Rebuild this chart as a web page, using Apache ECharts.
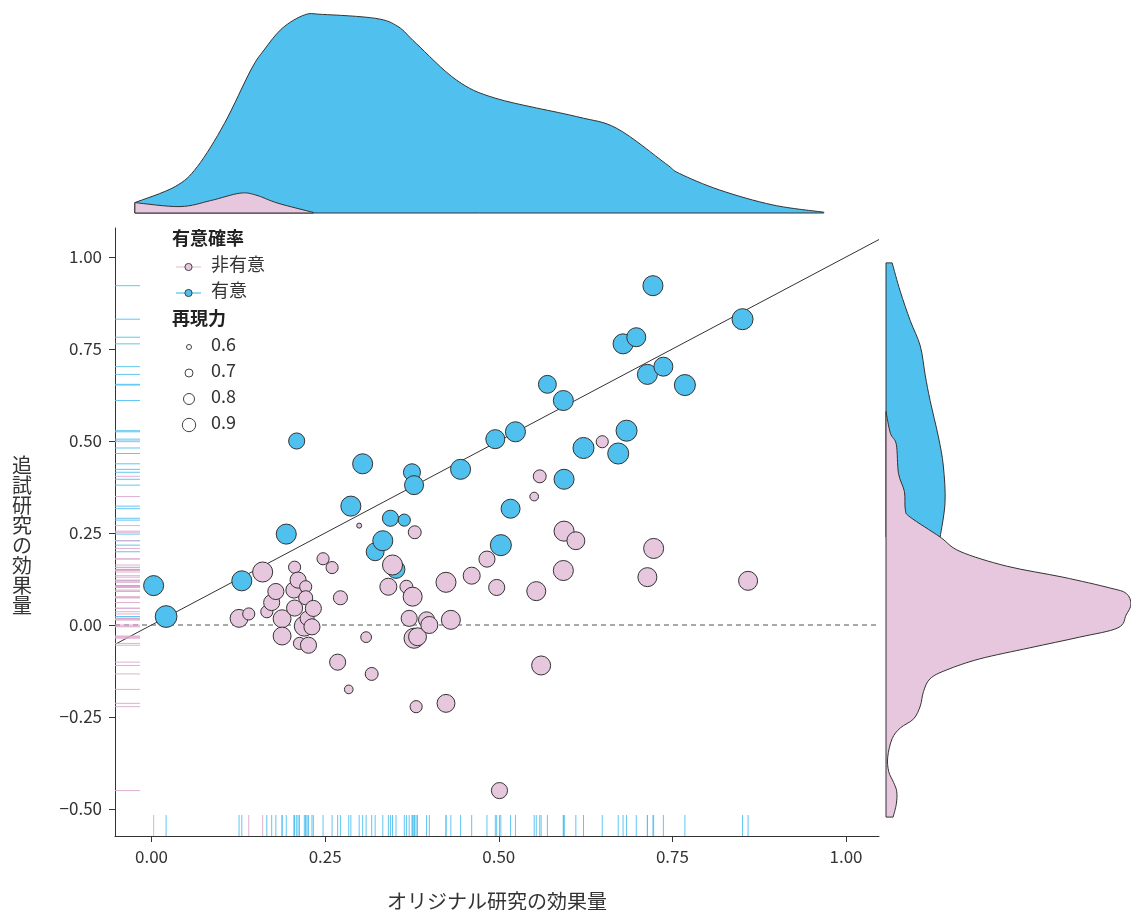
<!DOCTYPE html>
<html>
<head>
<meta charset="utf-8">
<script src="https://cdn.jsdelivr.net/npm/echarts@6/dist/echarts.min.js"></script>
<style>
  html, body { margin: 0; padding: 0; background: #fff; }
  #chart { width: 1131px; height: 910px; }
</style>
</head>
<body>
<div id="chart"></div>
<script>
// Studies whose replication was significant (p < .05)
const sigOrig = [0.003, 0.021, 0.130, 0.194, 0.209, 0.287, 0.304, 0.322, 0.333, 0.344, 0.364, 0.352, 0.375, 0.378, 0.445, 0.495, 0.503, 0.517, 0.524, 0.570, 0.593, 0.594, 0.622, 0.672, 0.679, 0.684, 0.698, 0.714, 0.722, 0.737, 0.768, 0.851];
const sigRep = [0.107, 0.023, 0.120, 0.247, 0.500, 0.323, 0.438, 0.199, 0.229, 0.290, 0.285, 0.151, 0.415, 0.380, 0.423, 0.505, 0.217, 0.316, 0.525, 0.654, 0.610, 0.396, 0.481, 0.466, 0.764, 0.528, 0.782, 0.681, 0.922, 0.702, 0.652, 0.831];
const sigPower = [0.92, 0.99, 0.92, 0.92, 0.78, 0.92, 0.92, 0.84, 0.92, 0.78, 0.67, 0.84, 0.81, 0.88, 0.92, 0.88, 0.96, 0.88, 0.92, 0.84, 0.92, 0.92, 0.96, 0.96, 0.92, 0.96, 0.88, 0.92, 0.92, 0.88, 0.96, 0.96];

// Studies whose replication was not significant
const nsOrig = [0.126, 0.140, 0.160, 0.166, 0.173, 0.179, 0.188, 0.188, 0.205, 0.206, 0.206, 0.211, 0.213, 0.220, 0.222, 0.222, 0.224, 0.226, 0.231, 0.233, 0.247, 0.260, 0.272, 0.268, 0.284, 0.299, 0.309, 0.317, 0.341, 0.347, 0.367, 0.376, 0.371, 0.378, 0.383, 0.379, 0.381, 0.396, 0.400, 0.424, 0.424, 0.431, 0.461, 0.483, 0.497, 0.501, 0.551, 0.554, 0.559, 0.561, 0.594, 0.593, 0.611, 0.649, 0.714, 0.723, 0.859];
const nsRep = [0.018, 0.030, 0.144, 0.036, 0.061, 0.091, 0.017, -0.030, 0.095, 0.046, 0.157, 0.122, -0.050, -0.003, 0.104, 0.074, 0.018, -0.055, -0.005, 0.045, 0.180, 0.156, 0.074, -0.101, -0.175, 0.270, -0.033, -0.133, 0.104, 0.163, 0.104, 0.077, 0.018, -0.036, -0.032, 0.252, -0.222, 0.014, 0.000, 0.116, -0.213, 0.014, 0.134, 0.179, 0.102, -0.450, 0.349, 0.092, 0.404, -0.110, 0.255, 0.148, 0.229, 0.498, 0.130, 0.208, 0.120];
const nsPower = [0.84, 0.67, 0.92, 0.67, 0.78, 0.78, 0.84, 0.84, 0.78, 0.78, 0.67, 0.78, 0.67, 0.92, 0.67, 0.72, 0.72, 0.78, 0.78, 0.78, 0.67, 0.67, 0.72, 0.78, 0.60, 0.55, 0.64, 0.69, 0.81, 0.92, 0.69, 0.88, 0.78, 0.92, 0.84, 0.69, 0.67, 0.78, 0.81, 0.92, 0.84, 0.88, 0.81, 0.78, 0.78, 0.78, 0.60, 0.88, 0.69, 0.88, 0.92, 0.92, 0.84, 0.67, 0.88, 0.92, 0.88];

// Indices (within each group) of studies whose original result was not significant
const sigOrigNotSig = [0];
const nsOrigNotSig = [1, 2];

// Marginal density of original effect size, by original significance
const topSigX = [-0.024, 0.034, 0.066, 0.105, 0.143, 0.162, 0.188, 0.220, 0.246, 0.323, 0.355, 0.381, 0.439, 0.496, 0.612, 0.670, 0.740, 0.760, 0.818, 0.895, 0.968];
const topSigDensity = [0.052, 0.132, 0.232, 0.448, 0.715, 0.815, 0.923, 0.990, 0.993, 0.973, 0.932, 0.848, 0.665, 0.573, 0.482, 0.423, 0.248, 0.198, 0.115, 0.040, 0.004];
const topNsX = [-0.024, 0.041, 0.085, 0.127, 0.150, 0.182, 0.233];
const topNsDensity = [0.052, 0.032, 0.062, 0.099, 0.090, 0.049, 0.003];

// Marginal density of replication effect size, by replication significance
const rightSigY = [0.984, 0.907, 0.827, 0.758, 0.679, 0.610, 0.511, 0.432, 0.333, 0.239];
const rightSigDensity = [0.025, 0.058, 0.099, 0.140, 0.160, 0.180, 0.214, 0.234, 0.241, 0.221];
const rightNsY = [0.580, 0.521, 0.491, 0.412, 0.363, 0.313, 0.293, 0.239, 0.200, 0.160, 0.130, 0.101, 0.086, 0.057, 0.027, -0.008, -0.033, -0.062, -0.092, -0.122, -0.146, -0.181, -0.220, -0.255, -0.280, -0.309, -0.359, -0.398, -0.428, -0.453, -0.487, -0.522];
const rightNsDensity = [0, 0.018, 0.042, 0.051, 0.075, 0.079, 0.099, 0.221, 0.302, 0.492, 0.722, 0.912, 0.980, 1.0, 0.980, 0.946, 0.790, 0.587, 0.383, 0.248, 0.180, 0.153, 0.140, 0.113, 0.058, 0.025, 0.007, 0.011, 0.031, 0.044, 0.042, 0.029];

// Axis ticks and legend entries
const xTicks = [0, 0.25, 0.5, 0.75, 1.0];
const yTicks = [-0.5, -0.25, 0, 0.25, 0.5, 0.75, 1.0];
const powerLegend = [0.6, 0.7, 0.8, 0.9];
const sigLabels = ['非有意', '有意'];

const X_MIN = -0.0526, X_MAX = 1.0475;
const Y_MIN = -0.5734, Y_MAX = 1.0788;

const BLUE = '#50C0EE';
const PINK = '#E7C7DE';
const EDGE = '#333333';
const FONT = '"Noto Sans CJK JP", "Noto Sans", sans-serif';

// Marker diameter from replication power (area grows linearly with power)
const sizeFromPower = p => Math.sqrt(25 + (p - 0.55) / 0.45 * 459);
const fmtTick = v => v.toFixed(2).replace('-', '\u2212');

// Smooth curve through pixel points (Catmull-Rom as cubic Bezier)
function curvePath(pts) {
  let d = '';
  for (let i = 0; i < pts.length - 1; i++) {
    const p0 = pts[i - 1] || pts[i], p1 = pts[i], p2 = pts[i + 1], p3 = pts[i + 2] || pts[i + 1];
    const t = 1 / 6;
    const c1 = [p1[0] + (p2[0] - p0[0]) * t, p1[1] + (p2[1] - p0[1]) * t];
    const c2 = [p2[0] - (p3[0] - p1[0]) * t, p2[1] - (p3[1] - p1[1]) * t];
    d += ' C' + c1[0] + ',' + c1[1] + ' ' + c2[0] + ',' + c2[1] + ' ' + p2[0] + ',' + p2[1];
  }
  return d;
}

// Filled density shape closed to its baseline
function densitySeries(gridIdx, xs, ys, fill, horizontal, z) {
  return {
    type: 'custom',
    xAxisIndex: gridIdx, yAxisIndex: gridIdx,
    z: z, silent: true,
    data: [[xs[0], ys[0]]],
    renderItem: function (params, api) {
      const pts = xs.map((x, i) => api.coord(horizontal ? [ys[i], x] : [x, ys[i]]));
      const b0 = api.coord(horizontal ? [0, xs[0]] : [xs[0], 0]);
      const b1 = api.coord(horizontal ? [0, xs[xs.length - 1]] : [xs[xs.length - 1], 0]);
      let d = 'M' + b0[0] + ',' + b0[1] + ' L' + pts[0][0] + ',' + pts[0][1];
      d += curvePath(pts);
      d += ' L' + b1[0] + ',' + b1[1] + ' Z';
      return {
        type: 'path',
        shape: { pathData: d },
        style: { fill: fill, stroke: EDGE, lineWidth: 1 }
      };
    }
  };
}

const sigPoints = sigOrig.map((x, i) => [x, sigRep[i], sigPower[i]]);
const nsPoints = nsOrig.map((x, i) => [x, nsRep[i], nsPower[i]]);

// Rug data: [value, 1 if significant]
const xRug = sigOrig.map((x, i) => [x, sigOrigNotSig.includes(i) ? 0 : 1])
  .concat(nsOrig.map((x, i) => [x, nsOrigNotSig.includes(i) ? 0 : 1]));
const yRug = sigRep.map(y => [y, 1]).concat(nsRep.map(y => [y, 0]));

const chart = echarts.init(document.getElementById('chart'), null, { renderer: 'canvas' });

const hiddenAxis = { show: false, splitLine: { show: false } };

const legendGraphics = [];
const LX = 172;
legendGraphics.push({ type: 'text', left: LX, top: 229, style: { text: '有意確率', font: 'bold 18px ' + FONT, fill: '#222' } });
[PINK, BLUE].forEach((c, i) => {
  const cy = 267 + i * 26;
  legendGraphics.push({ type: 'line', shape: { x1: 176, y1: cy, x2: 201, y2: cy }, style: { stroke: c, lineWidth: 1.2 } });
  legendGraphics.push({ type: 'circle', shape: { cx: 188.5, cy: cy, r: 3.6 }, style: { fill: c, stroke: EDGE, lineWidth: 0.9 } });
  legendGraphics.push({ type: 'text', left: 211, top: cy - 12, style: { text: sigLabels[i], font: '18px ' + FONT, fill: '#333' } });
});
legendGraphics.push({ type: 'text', left: LX, top: 309, style: { text: '再現力', font: 'bold 18px ' + FONT, fill: '#222' } });
const legendRadii = [2.5, 4, 5.5, 6.7];
powerLegend.forEach((p, i) => {
  const cy = 347 + i * 26;
  legendGraphics.push({ type: 'circle', shape: { cx: 189, cy: cy, r: legendRadii[i] }, style: { fill: '#fff', stroke: '#444', lineWidth: 1 } });
  legendGraphics.push({ type: 'text', left: 211, top: cy - 12, style: { text: p.toFixed(1), font: '18px ' + FONT, fill: '#333' } });
});

const option = {
  animation: false,
  backgroundColor: '#fff',
  grid: [
    { left: 115, top: 228, width: 764, height: 608 },
    { left: 115, top: 13, width: 764, height: 200 },
    { left: 886, top: 228, width: 245, height: 608 }
  ],
  xAxis: [
    {
      gridIndex: 0, type: 'value', min: X_MIN, max: X_MAX,
      splitLine: { show: false },
      axisLine: { show: true, onZero: false, lineStyle: { color: '#333', width: 1 } },
      axisTick: { show: true, customValues: xTicks, length: 6, lineStyle: { color: '#333', width: 1 } },
      axisLabel: { customValues: xTicks, formatter: fmtTick, fontSize: 17, color: '#333', margin: 12, fontFamily: FONT }
    },
    Object.assign({ gridIndex: 1, type: 'value', min: X_MIN, max: X_MAX }, hiddenAxis),
    Object.assign({ gridIndex: 2, type: 'value', min: 0, max: 1 }, hiddenAxis)
  ],
  yAxis: [
    {
      gridIndex: 0, type: 'value', min: Y_MIN, max: Y_MAX,
      splitLine: { show: false },
      axisLine: { show: true, onZero: false, lineStyle: { color: '#333', width: 1 } },
      axisTick: { show: true, customValues: yTicks, length: 6, lineStyle: { color: '#333', width: 1 } },
      axisLabel: { customValues: yTicks, formatter: fmtTick, fontSize: 17, color: '#333', margin: 13, fontFamily: FONT }
    },
    Object.assign({ gridIndex: 1, type: 'value', min: 0, max: 1 }, hiddenAxis),
    Object.assign({ gridIndex: 2, type: 'value', min: Y_MIN, max: Y_MAX }, hiddenAxis)
  ],
  graphic: legendGraphics.concat([
    {
      type: 'text', x: 22, y: 535,
      style: { text: '追\n試\n研\n究\nの\n効\n果\n量', font: '20px ' + FONT, fill: '#333', lineHeight: 20, align: 'center', verticalAlign: 'middle' }
    },
    {
      type: 'text', x: 497, y: 901,
      style: { text: 'オリジナル研究の効果量', font: '20px ' + FONT, fill: '#333', align: 'center', verticalAlign: 'middle' }
    }
  ]),
  series: [
    // Reference lines: equal effect and zero replication effect
    {
      type: 'line', xAxisIndex: 0, yAxisIndex: 0, symbol: 'none', silent: true, z: 1,
      data: [[X_MIN, X_MIN], [X_MAX, X_MAX]],
      lineStyle: { color: '#333', width: 1 }
    },
    {
      type: 'line', xAxisIndex: 0, yAxisIndex: 0, symbol: 'none', silent: true, z: 1,
      data: [[X_MIN, 0], [X_MAX, 0]],
      lineStyle: { color: '#555', width: 1.2, type: [5, 4] }
    },
    // Rugs along the axes
    {
      type: 'custom', xAxisIndex: 0, yAxisIndex: 0, silent: true, z: 2,
      data: xRug,
      renderItem: function (params, api) {
        const p = api.coord([api.value(0), Y_MIN]);
        return { type: 'line', shape: { x1: p[0], y1: p[1], x2: p[0], y2: p[1] - 21 },
          style: { stroke: api.value(1) ? BLUE : '#DDA8CA', lineWidth: 1, opacity: 0.9 } };
      }
    },
    {
      type: 'custom', xAxisIndex: 0, yAxisIndex: 0, silent: true, z: 2,
      data: yRug.map(d => [X_MIN, d[0], d[1]]),
      renderItem: function (params, api) {
        const p = api.coord([X_MIN, api.value(1)]);
        return { type: 'line', shape: { x1: p[0], y1: p[1], x2: p[0] + 25, y2: p[1] },
          style: { stroke: api.value(2) ? BLUE : '#DDA8CA', lineWidth: 1, opacity: 0.9 } };
      }
    },
    // Scatter of effect sizes
    {
      type: 'scatter', xAxisIndex: 0, yAxisIndex: 0, z: 3,
      data: sigPoints,
      symbolSize: v => sizeFromPower(v[2]),
      itemStyle: { color: BLUE, borderColor: EDGE, borderWidth: 1, opacity: 1 }
    },
    {
      type: 'scatter', xAxisIndex: 0, yAxisIndex: 0, z: 4,
      data: nsPoints,
      symbolSize: v => sizeFromPower(v[2]),
      itemStyle: { color: PINK, borderColor: EDGE, borderWidth: 1, opacity: 1 }
    },
    // Marginal densities
    densitySeries(1, topSigX, topSigDensity, BLUE, false, 2),
    densitySeries(1, topNsX, topNsDensity, PINK, false, 3),
    densitySeries(2, rightSigY, rightSigDensity, BLUE, true, 2),
    densitySeries(2, rightNsY, rightNsDensity, PINK, true, 3)
  ]
};

chart.setOption(option);
</script>
</body>
</html>
